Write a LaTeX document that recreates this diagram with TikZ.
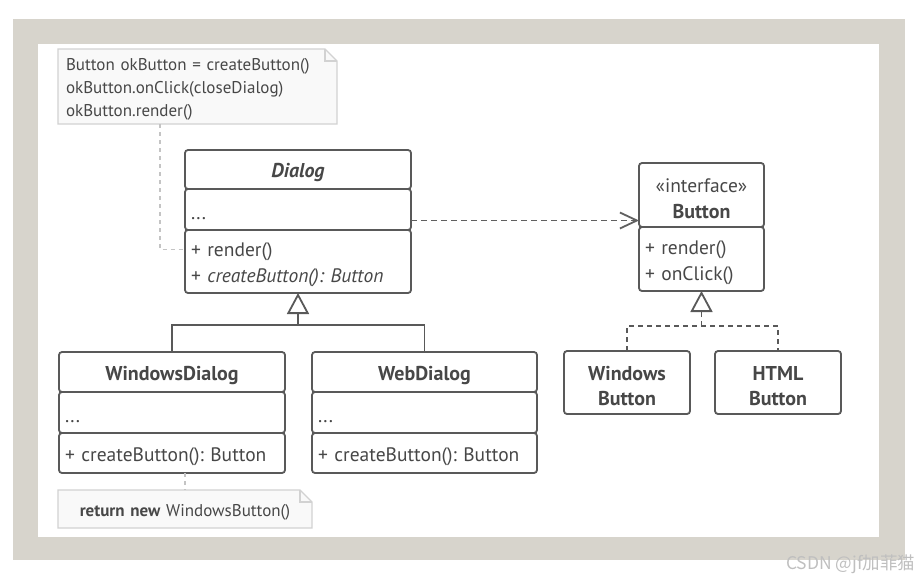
\documentclass[tikz,border=0pt]{standalone}
\usepackage{fontspec}
\setmainfont{PT Sans}
\newfontfamily\cjkfont{Noto Sans CJK SC}
\usetikzlibrary{positioning,arrows.meta}
\frenchspacing

\definecolor{framec}{HTML}{D7D4CC}
\definecolor{linec}{HTML}{595959}
\definecolor{txtc}{HTML}{474747}
\definecolor{notefill}{HTML}{F9F9F9}
\definecolor{notec}{HTML}{D2D2D2}
\definecolor{linkc}{HTML}{C4C4C4}
\definecolor{arrc}{HTML}{606060}

\newcommand\umlfont{\fontsize{19.5}{26}\selectfont}
\newcommand\namefont{\fontsize{20}{25}\selectfont\bfseries}
\newcommand\notefont{\fontsize{17}{23}\selectfont}

\begin{document}
\begin{tikzpicture}[x=1pt, y=-1pt,
    part/.style={draw=linec, line width=1.8pt, rounded corners=3pt, fill=white,
      anchor=north west, inner xsep=6pt, inner ysep=0pt, outer sep=0pt,
      text=txtc, font=\umlfont, execute at begin node={\rule{0pt}{21pt}}},
    note/.style={fill=notefill, anchor=north west, inner xsep=8pt, inner ysep=0pt,
      outer sep=0pt, text=txtc, font=\notefont,
      execute at begin node={\rule{0pt}{18.5pt}}},
    notebox/.style={draw=notec, line width=1.2pt},
    notelink/.style={draw=linkc, line width=1.2pt, dash pattern=on 4pt off 4pt},
    inh/.style={draw=linec, line width=1.8pt},
    tri/.style={-{Triangle[open, length=21pt, width=22pt, line width=1.8pt]}},
    dep/.style={draw=arrc, line width=1.8pt, dash pattern=on 6pt off 4pt,
      -{Straight Barb[length=17pt, width=16pt, line width=1.8pt]}}]
  \useasboundingbox (0,0) rectangle (920,581);
  % frame
  \fill[framec] (13,19) rectangle (905,560);
  \fill[white] (38,44) rectangle (879,537);

  % Dialog
  \node[part, text width=214pt, minimum height=39pt, align=center,
    font={\namefont\itshape}] (dlgT) at (185,150) {Dialog};
  \node[part, text width=214pt, minimum height=41pt, align=left,
    below=0pt of dlgT] (dlgA) {...};
  \node[part, text width=214pt, minimum height=63pt, align=left,
    below=0pt of dlgA] (dlgM) {+ render()\\+ \textit{createButton(): Button}};

  % WindowsDialog
  \node[part, text width=214pt, minimum height=40pt, align=center,
    font=\namefont] (wdT) at (59,352) {WindowsDialog};
  \node[part, text width=214pt, minimum height=41pt, align=left,
    below=0pt of wdT] (wdA) {...};
  \node[part, text width=214pt, minimum height=40pt, align=left,
    below=0pt of wdA] (wdM) {+ createButton(): Button};

  % WebDialog
  \node[part, text width=213pt, minimum height=40pt, align=center,
    font=\namefont] (webT) at (312,352) {WebDialog};
  \node[part, text width=213pt, minimum height=41pt, align=left,
    below=0pt of webT] (webA) {...};
  \node[part, text width=213pt, minimum height=40pt, align=left,
    below=0pt of webA] (webM) {+ createButton(): Button};

  % Button interface
  \node[part, text width=113pt, minimum height=64pt, align=center] (btnH)
    at (639,163) {«interface»\\{\namefont Button}};
  \node[part, text width=113pt, minimum height=64pt, align=left,
    below=0pt of btnH] (btnM) {+ render()\\+ onClick()};

  % concrete buttons
  \node[part, text width=114pt, minimum height=63pt, align=center,
    font=\namefont] (wbT) at (564,351) {Windows\\Button};
  \node[part, text width=114pt, minimum height=63pt, align=center,
    font=\namefont] (hbT) at (715,351) {HTML\\Button};

  % notes
  \node[note, text width=263pt, minimum height=75pt, align=left] (note1) at (58,49)
    {Button okButton = createButton()\\okButton.onClick(closeDialog)\\okButton.render()};
  \fill[white] ([xshift=-12pt]note1.north east) -- (note1.north east)
    -- ([yshift=-12pt]note1.north east) -- cycle;
  \draw[notebox] (note1.south west) -- (note1.north west)
    -- ([xshift=-12pt]note1.north east) -- ([yshift=-12pt]note1.north east)
    -- (note1.south east) -- cycle;
  \draw[notebox] ([xshift=-12pt]note1.north east) |- ([yshift=-12pt]note1.north east);

  \node[note, text width=238pt, minimum height=38pt, align=center] (note2) at (58,490)
    {\textbf{return new} WindowsButton()};
  \fill[white] ([xshift=-12pt]note2.north east) -- (note2.north east)
    -- ([yshift=-12pt]note2.north east) -- cycle;
  \draw[notebox] (note2.south west) -- (note2.north west)
    -- ([xshift=-12pt]note2.north east) -- ([yshift=-12pt]note2.north east)
    -- (note2.south east) -- cycle;
  \draw[notebox] ([xshift=-12pt]note2.north east) |- ([yshift=-12pt]note2.north east);

  % note links
  \draw[notelink] ([xshift=102pt]note1.south west) |- ([yshift=12pt]dlgM.west);
  \draw[notelink] (wdM.south -| note2.north) -- (note2.north);

  % inheritance
  \coordinate (dlgJ) at (298,325);
  \draw[inh] (wdT.north) |- (dlgJ) -| (webT.north);
  \draw[inh, tri] (dlgJ) -- (dlgM.south);

  % realization
  \coordinate (btnJ) at (701.5,326);
  \draw[inh, dash pattern=on 5pt off 4pt] (wbT.north) |- (btnJ) -| (hbT.north);
  \draw[inh, dash pattern=on 5pt off 4pt, tri] (btnJ) -- (btnM.south);

  % dependency
  \draw[dep] ([yshift=-11pt]dlgA.east) -- ([yshift=-11pt]dlgA.east -| btnH.west);

  \node[text=black!25, font={\fontsize{17.5}{19}\selectfont\cjkfont}, anchor=east] (wm)
    at (919,564) {CSDN @jf加菲猫};
\end{tikzpicture}
\end{document}
